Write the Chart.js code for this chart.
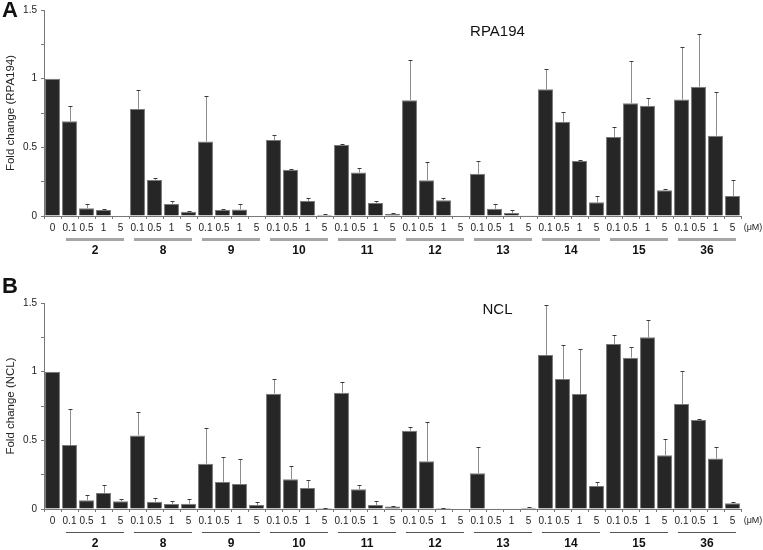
<!DOCTYPE html>
<html><head><meta charset="utf-8">
<script src="https://cdn.jsdelivr.net/npm/chart.js@4.4.0/dist/chart.umd.min.js"></script>
<style>
html,body{margin:0;padding:0;background:#fff;}
#wrap{position:relative;width:763px;height:550px;overflow:hidden;}
canvas{position:absolute;left:0;}
</style></head><body>
<div id="wrap">
<canvas id="cA" width="763" height="262" style="top:0px"></canvas>
<canvas id="cB" width="763" height="288" style="top:262px"></canvas>
</div>
<script>
// ---------- data ----------
const doseLabels = ['0',
  '0.1','0.5','1','5', '0.1','0.5','1','5', '0.1','0.5','1','5', '0.1','0.5','1','5',
  '0.1','0.5','1','5', '0.1','0.5','1','5', '0.1','0.5','1','5', '0.1','0.5','1','5',
  '0.1','0.5','1','5', '0.1','0.5','1','5'];
const compoundNames = ['2','8','9','10','11','12','13','14','15','36'];
const unitLabel = '(\u03bcM)';

const rpaMeans = [1.00,
  0.690,0.056,0.043,0.003,  0.780,0.263,0.087,0.031,  0.543,0.043,0.048,0.003,
  0.553,0.336,0.109,0.010,  0.517,0.316,0.094,0.017,  0.843,0.261,0.114,0.003,
  0.307,0.053,0.022,0.005,  0.923,0.686,0.401,0.101,  0.575,0.821,0.802,0.188,
  0.848,0.942,0.585,0.145];
const rpaErrors = [0,
  0.110,0.030,0.010,0.000,  0.140,0.015,0.020,0.008,  0.330,0.010,0.040,0.000,
  0.040,0.003,0.024,0.002,  0.010,0.037,0.012,0.003,  0.290,0.133,0.014,0.000,
  0.093,0.036,0.019,0.000,  0.149,0.068,0.005,0.046,  0.072,0.305,0.060,0.005,
  0.379,0.382,0.316,0.118];

const nclMeans = [1.00,
  0.466,0.063,0.117,0.056,  0.536,0.053,0.036,0.039,  0.330,0.197,0.182,0.029,
  0.840,0.216,0.153,0.007,  0.847,0.143,0.029,0.019,  0.570,0.347,0.007,0.000,
  0.260,0.005,0.005,0.010,  1.121,0.947,0.837,0.167,  1.201,1.102,1.250,0.391,
  0.765,0.648,0.367,0.041];
const nclErrors = [0,
  0.262,0.037,0.058,0.017,  0.168,0.027,0.020,0.034,  0.260,0.182,0.182,0.022,
  0.107,0.100,0.058,0.003,  0.075,0.034,0.027,0.002,  0.027,0.286,0.002,0.000,
  0.191,0.000,0.000,0.003,  0.364,0.250,0.328,0.030,  0.066,0.075,0.126,0.119,
  0.240,0.010,0.084,0.012];

// ---------- helpers ----------
const FONT = '"Liberation Sans", Arial, sans-serif';

const errorBarPlugin = {
  id: 'errbars',
  afterDatasetsDraw(chart, args, opts) {
    const ctx = chart.ctx, y = chart.scales.y;
    const meta = chart.getDatasetMeta(0);
    const vals = chart.data.datasets[0].data;
    ctx.save();
    meta.data.forEach((bar, i) => {
      const e = opts.errors[i];
      if (!e) return;
      const yb = y.getPixelForValue(vals[i]);
      const yt = Math.round(y.getPixelForValue(vals[i] + e)) + 0.5;
      const xc = Math.round(bar.x) + 0.5;
      ctx.lineWidth = 1;
      ctx.strokeStyle = '#8c8c8c';
      ctx.beginPath(); ctx.moveTo(xc, yb); ctx.lineTo(xc, yt); ctx.stroke();
      ctx.strokeStyle = '#3a3a3a';
      ctx.beginPath(); ctx.moveTo(xc - 2, yt); ctx.lineTo(xc + 2, yt); ctx.stroke();
    });
    ctx.restore();
  }
};

const annotatePlugin = {
  id: 'annot',
  afterDraw(chart, args, o) {
    const ctx = chart.ctx, x = chart.scales.x, ca = chart.chartArea;
    ctx.save();
    compoundNames.forEach((name, gi) => {
      const i0 = 1 + gi * 4, i1 = i0 + 3;
      const p0 = x.getPixelForValue(i0), p1 = x.getPixelForValue(i1);
      const c = (p0 + p1) / 2, half = (p1 - p0) * 0.57;
      ctx.strokeStyle = o.lineColor; ctx.lineWidth = o.lineWidth;
      ctx.beginPath();
      ctx.moveTo(c - half, ca.bottom + 23.5); ctx.lineTo(c + half, ca.bottom + 23.5);
      ctx.stroke();
      ctx.fillStyle = '#111';
      ctx.font = 'bold 12px ' + FONT;
      ctx.textAlign = 'center'; ctx.textBaseline = 'middle';
      ctx.fillText(name, c, ca.bottom + 34.5);
    });
    ctx.fillStyle = '#222';
    ctx.font = '9px ' + FONT;
    ctx.textAlign = 'center'; ctx.textBaseline = 'middle';
    ctx.fillText(unitLabel, 753, ca.bottom + 12);
    ctx.font = '15px ' + FONT;
    ctx.fillStyle = '#111';
    ctx.fillText(o.title, 497.5, o.titleY);
    ctx.font = 'bold 22px ' + FONT;
    ctx.fillText(o.letter, 10, o.letterY);
    ctx.restore();
  }
};

function makeChart(id, means, errs, yTitle, padTop, xHeight, ann) {
  return new Chart(document.getElementById(id), {
    type: 'bar',
    data: {
      labels: doseLabels,
      datasets: [{
        data: means,
        backgroundColor: '#262626',
        borderColor: '#7a7a7a',
        borderWidth: 1,
        barPercentage: 0.88,
        categoryPercentage: 1.0
      }]
    },
    options: {
      responsive: false,
      animation: false,
      events: [],
      layout: { padding: { top: padTop, right: 22, left: 0, bottom: 0 } },
      plugins: {
        legend: { display: false },
        tooltip: { enabled: false },
        errbars: { errors: errs },
        annot: ann
      },
      scales: {
        x: {
          offset: true,
          grid: { display: true, drawOnChartArea: false, drawTicks: true, tickLength: 3, color: '#777', offset: true },
          border: { display: true, color: '#777', width: 1 },
          ticks: { autoSkip: false, maxRotation: 0, minRotation: 0, padding: 3,
                   color: '#222', font: { family: FONT, size: 10 } },
          afterFit: s => { s.height = xHeight; }
        },
        y: {
          min: 0, max: 1.5,
          grid: { display: true, drawOnChartArea: false, drawTicks: true, tickLength: 3, color: '#777' },
          border: { display: true, color: '#777', width: 1 },
          ticks: {
            stepSize: 0.25, padding: 4, color: '#222', font: { family: FONT, size: 10 },
            callback: v => (Math.abs(v * 2 - Math.round(v * 2)) < 1e-9) ? String(v) : ''
          },
          title: { display: true, text: yTitle, color: '#222', padding: { top: 4, bottom: 0 },
                   font: { family: FONT, size: 11.5 } },
          afterFit: s => { s.width = 44; }
        }
      }
    },
    plugins: [errorBarPlugin, annotatePlugin]
  });
}

makeChart('cA', rpaMeans, rpaErrors, 'Fold change (RPA194)', 10, 46,
  { lineColor: '#a6a6a6', lineWidth: 3, title: 'RPA194', titleY: 32, letter: 'A', letterY: 11 });
makeChart('cB', nclMeans, nclErrors, 'Fold change (NCL)', 41, 41,
  { lineColor: '#555', lineWidth: 1, title: 'NCL', titleY: 48, letter: 'B', letterY: 25 });
</script>
</body></html>
